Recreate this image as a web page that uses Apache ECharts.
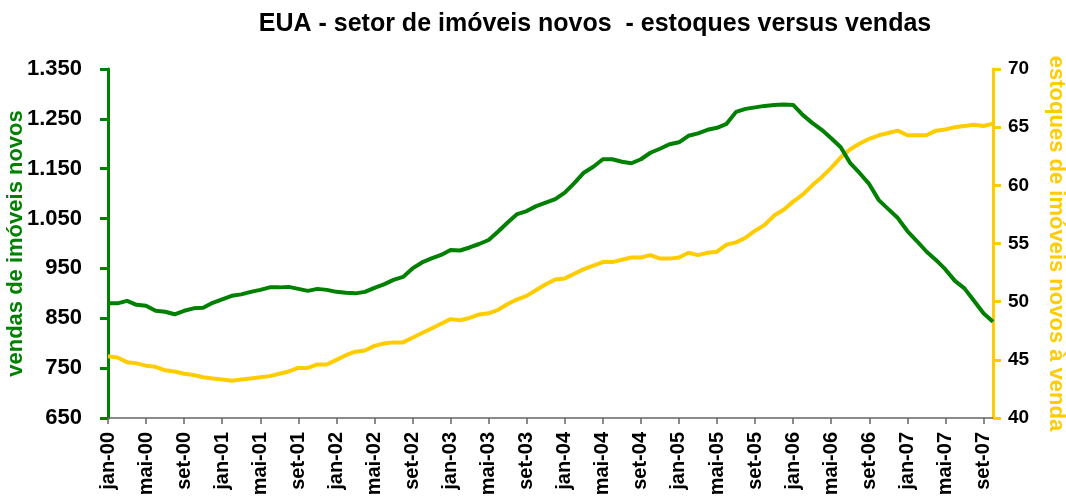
<!DOCTYPE html>
<html>
<head>
<meta charset="utf-8">
<script src="https://cdn.jsdelivr.net/npm/echarts@6/dist/echarts.min.js"></script>
<style>
html,body{margin:0;padding:0;background:#fff;}
#chart{width:1066px;height:499px;}
</style>
</head>
<body>
<div id="chart"></div>
<script>
const meses = ['jan','fev','mar','abr','mai','jun','jul','ago','set','out','nov','dez'];
const anos = ['00','01','02','03','04','05','06','07'];
const nPontos = 94; // jan-00 .. out-07

const vendas = [
  880, 880, 885, 877, 875, 865, 863, 858, 865, 870,
  871, 881, 888, 895, 898, 903, 907, 912, 912, 913,
  909, 905, 909, 907, 903, 901, 900, 903, 911, 918,
  927, 933, 950, 962, 970, 977, 987, 986, 992, 999,
  1007, 1024, 1042, 1059, 1065, 1075, 1082, 1089, 1102, 1121,
  1142, 1154, 1169, 1169, 1164, 1161, 1169, 1182, 1190, 1199,
  1203, 1216, 1221, 1228, 1232, 1240, 1264, 1270, 1273, 1276,
  1278, 1279, 1278, 1258, 1242, 1228, 1211, 1193, 1161, 1141,
  1119, 1087, 1069, 1051, 1025, 1005, 984, 967, 948, 925,
  910, 885, 860, 843
];

const estoques = [
  45.3, 45.2, 44.8, 44.7, 44.5, 44.4, 44.1, 44.0, 43.8, 43.7,
  43.5, 43.4, 43.3, 43.2, 43.3, 43.4, 43.5, 43.6, 43.8, 44.0,
  44.3, 44.3, 44.6, 44.6, 45.0, 45.4, 45.7, 45.8, 46.2, 46.4,
  46.5, 46.5, 46.9, 47.3, 47.7, 48.1, 48.5, 48.4, 48.6, 48.9,
  49.0, 49.3, 49.8, 50.2, 50.5, 51.0, 51.5, 51.9, 52.0, 52.4,
  52.8, 53.1, 53.4, 53.4, 53.6, 53.8, 53.8, 54.0, 53.7, 53.7,
  53.8, 54.2, 54.0, 54.2, 54.3, 54.9, 55.1, 55.5, 56.1, 56.6,
  57.4, 57.9, 58.6, 59.2, 60.0, 60.7, 61.5, 62.4, 63.1, 63.6,
  64.0, 64.3, 64.5, 64.7, 64.3, 64.3, 64.3, 64.7, 64.8, 65.0,
  65.1, 65.2, 65.1, 65.3
];

const vendasTicks = [650, 750, 850, 950, 1050, 1150, 1250, 1350];
const estoquesTicks = [40, 45, 50, 55, 60, 65, 70];

const categorias = [];
anos.forEach(a => meses.forEach(m => categorias.push(m + '-' + a)));
categorias.length = nPontos;

const VERDE = '#008000';
const AMARELO = '#FFCC00';
const FONTE = 'Arial, Liberation Sans, sans-serif';

function fmtMilhar(v) {
  if (v >= 1000) return Math.floor(v / 1000) + '.' + String(v % 1000).padStart(3, '0');
  return String(v);
}

const chart = echarts.init(document.getElementById('chart'), null, {renderer: 'canvas'});
chart.setOption({
  backgroundColor: '#ffffff',
  animation: false,
  title: {
    text: 'EUA - setor de imóveis novos  - estoques versus vendas',
    left: 590,
    top: 7,
    textAlign: 'center',
    textStyle: {fontFamily: FONTE, fontWeight: 'bold', fontSize: 25, color: '#000'}
  },
  grid: {left: 108, right: 73, top: 69, bottom: 81, containLabel: false, outerBoundsMode: 'none'},
  xAxis: {
    type: 'category',
    data: categorias,
    boundaryGap: false,
    axisLine: {show: true, lineStyle: {color: '#666', width: 1.5}},
    axisTick: {show: true, interval: 3, length: 6, lineStyle: {color: '#666', width: 1.5}},
    axisLabel: {
      interval: 3, rotate: 90, margin: 14,
      fontFamily: FONTE, fontWeight: 'bold', fontSize: 20, color: '#000'
    },
    splitLine: {show: false}
  },
  yAxis: [
    {
      type: 'value',
      min: 650, max: 1350,
      position: 'left',
      name: 'vendas de imóveis novos',
      nameLocation: 'middle',
      nameRotate: 90,
      nameGap: 81,
      nameMoveOverlap: false,
      nameTextStyle: {fontFamily: FONTE, fontWeight: 'bold', fontSize: 22, color: VERDE},
      axisLine: {show: true, lineStyle: {color: VERDE, width: 3}},
      axisTick: {show: true, length: 8, lineStyle: {color: VERDE, width: 3}, customValues: vendasTicks},
      axisLabel: {
        customValues: vendasTicks, margin: 26, formatter: fmtMilhar,
        fontFamily: FONTE, fontWeight: 'bold', fontSize: 22, color: '#000'
      },
      splitLine: {show: false}
    },
    {
      type: 'value',
      min: 40, max: 70, interval: 5,
      position: 'right',
      name: 'estoques de imóveis novos à venda',
      nameLocation: 'middle',
      nameRotate: -90,
      nameGap: 52,
      nameMoveOverlap: false,
      nameTextStyle: {fontFamily: FONTE, fontWeight: 'bold', fontSize: 22, color: AMARELO},
      axisLine: {show: true, lineStyle: {color: AMARELO, width: 3}},
      axisTick: {show: true, length: 8, lineStyle: {color: AMARELO, width: 3}, customValues: estoquesTicks},
      axisLabel: {
        customValues: estoquesTicks, margin: 15,
        fontFamily: FONTE, fontWeight: 'bold', fontSize: 19, color: '#000'
      },
      splitLine: {show: false}
    }
  ],
  series: [
    {
      name: 'estoques de imóveis novos à venda',
      type: 'line',
      yAxisIndex: 1,
      data: estoques,
      showSymbol: false,
      symbol: 'none',
      lineStyle: {color: AMARELO, width: 4},
      itemStyle: {color: AMARELO}
    },
    {
      name: 'vendas de imóveis novos',
      type: 'line',
      yAxisIndex: 0,
      data: vendas,
      showSymbol: false,
      symbol: 'none',
      lineStyle: {color: VERDE, width: 4},
      itemStyle: {color: VERDE}
    }
  ]
});
</script>
</body>
</html>
